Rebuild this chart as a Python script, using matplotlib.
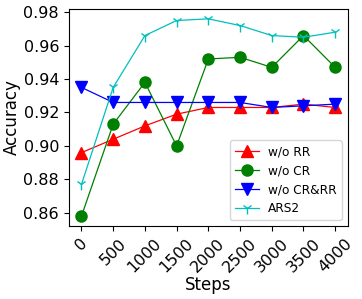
import matplotlib
matplotlib.use("Agg")
import matplotlib.pyplot as plt

steps = [0, 500, 1000, 1500, 2000, 2500, 3000, 3500, 4000]
wo_rr = [0.896, 0.904, 0.912, 0.919, 0.923, 0.923, 0.923, 0.925, 0.923]
wo_cr = [0.858, 0.913, 0.938, 0.900, 0.952, 0.953, 0.947, 0.966, 0.947]
wo_crrr = [0.935, 0.926, 0.926, 0.926, 0.926, 0.926, 0.923, 0.924, 0.925]
ars2 = [0.877, 0.935, 0.966, 0.975, 0.976, 0.972, 0.966, 0.965, 0.968]

fig, ax = plt.subplots(figsize=(3.62, 2.99), dpi=100)
ax.plot(steps, wo_rr, color='red', marker='^', markersize=8, linewidth=0.9, label='w/o RR')
ax.plot(steps, wo_cr, color='green', marker='o', markersize=8, linewidth=0.9, label='w/o CR')
ax.plot(steps, wo_crrr, color='blue', marker='v', markersize=8, linewidth=0.9, label='w/o CR&RR')
ax.plot(steps, ars2, color='c', marker='1', markersize=8, linewidth=0.9, label='ARS2')
ax.set_xticks(steps)
ax.set_xticklabels([str(s) for s in steps], rotation=45, fontsize=11.5)
ax.set_yticks([0.86, 0.88, 0.90, 0.92, 0.94, 0.96, 0.98])
ax.tick_params(axis='y', labelsize=11.5)
ax.set_xlabel('Steps', fontsize=12, labelpad=1)
ax.set_ylabel('Accuracy', fontsize=12, labelpad=2)
ax.legend(loc='lower right', fontsize=8.7)
fig.subplots_adjust(left=0.19, right=0.961, top=0.97, bottom=0.244)
fig.savefig('out.png', dpi=100)
